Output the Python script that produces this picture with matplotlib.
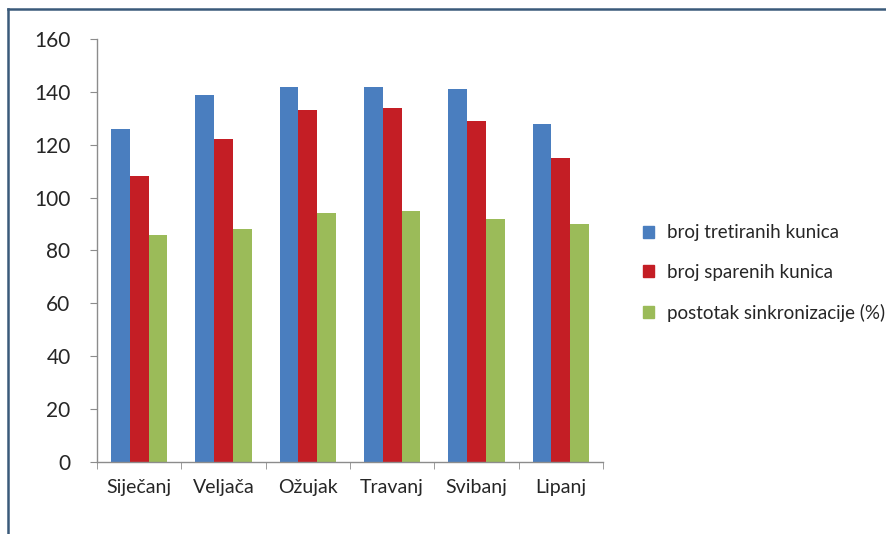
import matplotlib
matplotlib.use("Agg")
import matplotlib.pyplot as plt
import numpy as np
from matplotlib.patches import Rectangle
from matplotlib.lines import Line2D

categories = ["Siječanj", "Veljača", "Ožujak", "Travanj", "Svibanj", "Lipanj"]
treated = [126, 139, 142, 142, 141, 128]
mated = [108, 122, 133, 134, 129, 115]
sync_pct = [86, 88, 94, 95, 92, 90]
series_labels = ["broj tretiranih kunica", "broj sparenih kunica", "postotak sinkronizacije (%)"]
colors = ["#4a7ebf", "#c41e25", "#9bbb59"]
yticks = [0, 20, 40, 60, 80, 100, 120, 140, 160]

plt.rcParams['font.family'] = ['Lato', 'DejaVu Sans']

fig = plt.figure(figsize=(8.86, 5.34), dpi=100)
fig.patch.set_facecolor("white")

# frame border (top and left edges visible)
frame_col = "#3a5a7a"
fig.add_artist(Line2D([8/886, 8/886], [0, 1 - 9/534], transform=fig.transFigure, color=frame_col, lw=1.8))
fig.add_artist(Line2D([8/886, 1], [1 - 9/534, 1 - 9/534], transform=fig.transFigure, color=frame_col, lw=1.8))

ax = fig.add_axes([97/886, (534-462)/534, 506/886, 423/534])
x = np.arange(len(categories))
w = 0.222
data = [treated, mated, sync_pct]
for i, (vals, c, lab) in enumerate(zip(data, colors, series_labels)):
    ax.bar(x + (i - 1) * w, vals, width=w, color=c, label=lab, zorder=2)

ax.set_xlim(-0.5, len(categories) - 0.5)
ax.set_ylim(0, 160)
ax.set_yticks(yticks)
ax.set_yticklabels([str(t) for t in yticks])
ax.set_xticks(x)
ax.set_xticklabels(categories)
ax.set_xticks(np.arange(-0.5, len(categories), 1.0), minor=True)

axis_col = "#8c8c8c"
for s in ["top", "right"]:
    ax.spines[s].set_visible(False)
for s in ["left", "bottom"]:
    ax.spines[s].set_color(axis_col)
    ax.spines[s].set_linewidth(1.0)

ax.tick_params(axis="y", direction="out", length=5, color=axis_col, labelsize=15, labelcolor="#262626", pad=14)
ax.tick_params(axis="x", which="major", length=0, labelsize=14, labelcolor="#262626", pad=12)
ax.tick_params(axis="x", which="minor", direction="out", length=5, color=axis_col)

handles = [Rectangle((0, 0), 1, 1, color=c) for c in colors]
fig.legend(handles, series_labels, loc="center left", bbox_to_anchor=(643/886, 1 - 273/534),
           frameon=False, fontsize=13.5, handlelength=0.6, handleheight=0.6,
           handletextpad=0.7, labelspacing=1.2, labelcolor="#262626", borderpad=0, borderaxespad=0)

fig.savefig("out.png", dpi=100, facecolor="white")
